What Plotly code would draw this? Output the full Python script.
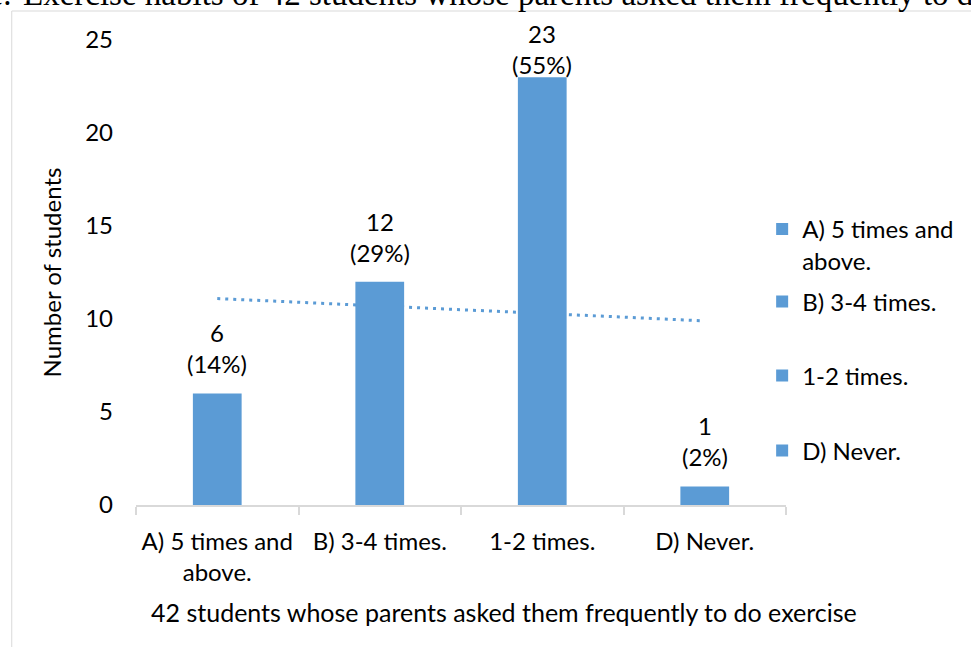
import numpy as np
import plotly.graph_objects as go

# Data
categories = ["A) 5 times and above.", "B) 3-4 times.", "1-2 times.", "D) Never."]
tick_labels = ["A) 5 times and<br>above.", "B) 3-4 times.", "1-2 times.", "D) Never."]
legend_labels = ["A) 5 times and<br>above.", "B) 3-4 times.", "1-2 times.", "D) Never."]
students = [6, 12, 23, 1]

caption_lead = "Figure."
caption = "Exercise habits of 42 students whose parents asked them frequently to do exercise"
x_title = "42 students whose parents asked them frequently to do exercise"
y_title = "Number of students"

# Vertical offset (px) of each value label above its bar; the tallest one is
# tucked in closer so it stays inside the chart frame.
label_offsets = [13, 13, -4, 13]

BLUE = "#5B9BD5"
GREY = "#D9D9D9"
FONT = "Lato"
FS = 24

total = sum(students)
pct = [round(v * 100 / total) for v in students]

TOP, BOTTOM = 40, 505


def py(p):
    return (BOTTOM - p) / float(BOTTOM - TOP)


def px(p):
    return (p - 136) / 654.0


fig = go.Figure()

# Linear trendline across the category positions (base axes, so it sits under the bars)
xi = np.arange(len(students))
slope, intercept = np.polyfit(xi, students, 1)
trend = slope * xi + intercept
fig.add_trace(go.Scatter(
    x=[categories[0], categories[-1]], y=[trend[0], trend[-1]],
    mode="lines", line=dict(color=BLUE, width=3, dash="3px,5px"),
    showlegend=False, hoverinfo="skip",
))

# One bar trace per category so each gets its own legend entry
legend_ids = ["legend", "legend2", "legend3", "legend4"]
for i, (cat, v) in enumerate(zip(categories, students)):
    fig.add_trace(go.Bar(
        x=[cat], y=[v], name=legend_labels[i],
        marker=dict(color=BLUE, line=dict(width=0)),
        width=0.3, xaxis="x2", yaxis="y2",
        legend=legend_ids[i],
    ))

# Value / share labels above each bar
label_font = dict(family=FONT, size=FS, color="#000000")
annotations = [
    dict(text=f"{v}<br>({p}%)", x=cat, y=v, xref="x", yref="y",
         xanchor="center", yanchor="bottom", yshift=dy, showarrow=False,
         font=label_font)
    for cat, v, p, dy in zip(categories, students, pct, label_offsets)
]
annotations += [
    dict(text=x_title, xref="paper", yref="paper", x=px(506), y=py(612),
         xanchor="center", yanchor="middle", showarrow=False,
         font=dict(family=FONT, size=25, color="#000000")),
    dict(text=caption, xref="paper", yref="paper", x=px(20), y=py(14),
         xanchor="left", yanchor="bottom", showarrow=False,
         font=dict(family="Liberation Serif", size=33, color="#000000")),
    dict(text=caption_lead, xref="paper", yref="paper", x=px(12), y=py(14),
         xanchor="right", yanchor="bottom", showarrow=False,
         font=dict(family="Liberation Serif", size=33, color="#000000")),
]

legend_common = dict(
    xanchor="left", yanchor="middle", valign="top",
    bgcolor="rgba(0,0,0,0)", borderwidth=0,
    font=dict(family=FONT, size=FS, color="#000000"),
)
legend_rows = [245, 302, 376, 451]
for lid, row in zip(legend_ids, legend_rows):
    fig.update_layout(**{lid: dict(x=px(766), y=py(row), **legend_common)})

fig.update_layout(
    width=971, height=647,
    margin=dict(l=136, r=181, t=TOP, b=647 - BOTTOM),
    paper_bgcolor="white", plot_bgcolor="white",
    barmode="overlay",
    font=dict(family=FONT, size=FS, color="#000000"),
    xaxis=dict(
        type="category", categoryorder="array", categoryarray=categories,
        tickvals=categories, ticktext=tick_labels,
        range=[-0.5, 3.5], tickson="boundaries",
        ticks="outside", ticklen=8, tickcolor=GREY, tickwidth=1.5,
        showline=True, linecolor=GREY, linewidth=1.5,
        showgrid=False, zeroline=False,
        ticklabelstandoff=14,
        tickfont=label_font,
        automargin=False,
    ),
    yaxis=dict(
        range=[0, 25], dtick=5, tick0=0,
        showgrid=False, showline=False, zeroline=False, ticks="",
        ticklabelstandoff=22,
        tickfont=label_font,
        title=dict(text=y_title, standoff=16, font=label_font),
        automargin=False,
    ),
    xaxis2=dict(
        overlaying="x", type="category", categoryorder="array",
        categoryarray=categories, range=[-0.5, 3.5], visible=False,
    ),
    yaxis2=dict(overlaying="y", range=[0, 25], visible=False),
    shapes=[dict(
        type="rect", xref="paper", yref="paper",
        x0=px(11), x1=px(1100), y0=py(800), y1=py(11),
        line=dict(color=GREY, width=1), fillcolor="rgba(0,0,0,0)", layer="below",
    )],
    annotations=annotations,
)

fig.write_html("out.html")
